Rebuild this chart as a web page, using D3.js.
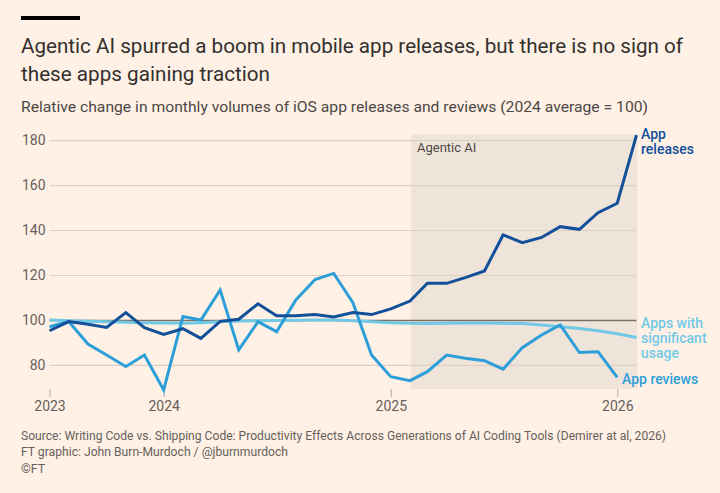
<!DOCTYPE html>
<html>
<head>
<meta charset="utf-8">
<script src="https://cdn.jsdelivr.net/npm/d3@7"></script>
<style>
  html, body { margin: 0; padding: 0; background: #fff1e5; }
  svg { display: block; font-family: Roboto, "Noto Sans", sans-serif; }
</style>
</head>
<body>
<svg class="chart"></svg>
<script>
// monthly, Jul 2023 - Feb 2026
var months = ["2023-07","2023-08","2023-09","2023-10","2023-11","2023-12",
  "2024-01","2024-02","2024-03","2024-04","2024-05","2024-06","2024-07","2024-08","2024-09","2024-10","2024-11","2024-12",
  "2025-01","2025-02","2025-03","2025-04","2025-05","2025-06","2025-07","2025-08","2025-09","2025-10","2025-11","2025-12",
  "2026-01","2026-02"];

var releases = [95.2, 99.3, 98.1, 96.7, 103.3, 96.6,
  93.6, 96.1, 91.8, 99.4, 100.3, 107.2, 101.9, 101.9, 102.4, 101.3, 103.3, 102.4,
  104.9, 108.4, 116.3, 116.3, 118.8, 121.8, 137.8, 134.4, 136.7, 141.5, 140.3, 147.7,
  151.9, 182.2];

// reviews stop at Jan 2026
var reviews = [97, 99.3, 89.3, 84.4, 79.3, 84.4,
  68.9, 101.5, 100, 113.3, 86.7, 99.2, 94.8, 108.9, 118, 120.7, 107.7, 84.4,
  74.8, 73, 77, 84.4, 83, 81.9, 78.1, 87.7, 93.3, 97.8, 85.5, 85.9,
  74.5];

var usage = [100, 99.7, 99.4, 99.2, 99.0, 98.8,
  98.6, 98.5, 98.8, 99.2, 99.5, 99.7, 99.8, 99.9, 100, 100, 99.7, 99.2,
  98.8, 98.5, 98.4, 98.5, 98.6, 98.6, 98.5, 98.4, 97.8, 97.0, 96.2, 95.2,
  93.9, 92.2];

var yTicks = [80, 100, 120, 140, 160, 180];
var xTicks = ["2023-07", "2024-01", "2025-01", "2026-01"];
var agenticSpan = ["2025-02", "2026-02"];

var W = 720, H = 493;
var margin = {top: 134, right: 83.5, bottom: 104, left: 49.5};
var width = W - margin.left - margin.right,
    height = H - margin.top - margin.bottom;

var parse = d3.timeParse("%Y-%m");

var svg = d3.select(".chart").attr("width", W).attr("height", H);
svg.append("rect").attr("width", W).attr("height", H).attr("fill", "#fff1e5");

// header
svg.append("rect").attr("x", 21).attr("y", 16).attr("width", 59).attr("height", 4).attr("fill", "#000");

function fit(sel, w) {
  sel.attr("textLength", w).attr("lengthAdjust", "spacingAndGlyphs");
}

svg.append("text").attr("x", 21).attr("y", 53)
  .attr("font-size", 20).attr("fill", "#33302e")
  .text("Agentic AI spurred a boom in mobile app releases, but there is no sign of")
  .call(fit, 662);
svg.append("text").attr("x", 21).attr("y", 81)
  .attr("font-size", 20).attr("fill", "#33302e")
  .text("these apps gaining traction")
  .call(fit, 249);
svg.append("text").attr("x", 21).attr("y", 112)
  .attr("font-size", 15).attr("fill", "#4d4845")
  .text("Relative change in monthly volumes of iOS app releases and reviews (2024 average = 100)")
  .call(fit, 627);

var src = svg.append("g").attr("font-size", 12.5).attr("fill", "#66605c");
src.append("text").attr("x", 21).attr("y", 440)
  .text("Source: Writing Code vs. Shipping Code: Productivity Effects Across Generations of AI Coding Tools (Demirer at al, 2026)")
  .call(fit, 645);
src.append("text").attr("x", 21).attr("y", 456)
  .text("FT graphic: John Burn-Murdoch / @jburnmurdoch")
  .call(fit, 267);
src.append("text").attr("x", 21).attr("y", 473).text("\u00a9FT");

var chart = svg.append("g")
  .attr("transform", "translate(" + margin.left + "," + margin.top + ")");

var x = d3.scaleTime()
  .domain([parse(months[0]), parse(months[months.length - 1])])
  .range([0, width]);

var y = d3.scaleLinear()
  .domain([69.3, 182.7])
  .range([height, 0]);

// agentic AI shading
chart.append("rect")
  .attr("x", x(parse(agenticSpan[0])) + 1)
  .attr("y", 0)
  .attr("width", x(parse(agenticSpan[1])) - x(parse(agenticSpan[0])))
  .attr("height", height)
  .attr("fill", "#efe4d9");

chart.append("text")
  .attr("x", x(parse(agenticSpan[0])) + 7)
  .attr("y", 18)
  .attr("font-size", 13).attr("fill", "#4d4845")
  .text("Agentic AI");

// y axis + grid
var yAxis = d3.axisLeft(y).tickValues(yTicks).tickSize(-width).tickPadding(4);
var gy = chart.append("g").attr("class", "y axis").call(yAxis);
gy.select(".domain").remove();
gy.selectAll(".tick line")
  .attr("stroke", function(d) { return d === 100 ? "#7a7068" : "#ddd0c5"; })
  .attr("stroke-width", function(d) { return d === 100 ? 1.5 : 1.2; });
gy.selectAll(".tick text")
  .attr("font-size", 14).attr("fill", "#66605c")
  .attr("font-family", "Roboto, 'Noto Sans', sans-serif");

// x axis
var xAxis = d3.axisBottom(x)
  .tickValues(xTicks.map(parse))
  .tickFormat(d3.timeFormat("%Y"))
  .tickSize(8).tickPadding(4);
var gx = chart.append("g").attr("class", "x axis")
  .attr("transform", "translate(0," + height + ")")
  .call(xAxis);
gx.select(".domain").remove();
gx.selectAll(".tick line").attr("stroke", "#b7aca2");
gx.selectAll(".tick text")
  .attr("font-size", 14).attr("fill", "#66605c")
  .attr("font-family", "Roboto, 'Noto Sans', sans-serif");

var line = d3.line()
  .x(function(d) { return x(parse(d.m)); })
  .y(function(d) { return y(d.v); });

function pts(vals) {
  return vals.map(function(v, i) { return {m: months[i], v: v}; });
}

var series = [
  {name: "usage", vals: usage, color: "#72c9e6"},
  {name: "reviews", vals: reviews, color: "#2d9fd8"},
  {name: "releases", vals: releases, color: "#13509a"}
];

chart.selectAll(".series")
  .data(series)
  .enter().append("path")
    .attr("class", function(d) { return "series " + d.name; })
    .attr("d", function(d) { return line(pts(d.vals)); })
    .attr("fill", "none")
    .attr("stroke", function(d) { return d.color; })
    .attr("stroke-width", 3)
    .attr("stroke-linejoin", "miter");

// labels at line ends, one text per line
var labels = [
  {lines: ["App", "releases"], x: 641, y: 139, color: "#13509a"},
  {lines: ["Apps with", "significant", "usage"], x: 641, y: 328, color: "#72c9e6"},
  {lines: ["App reviews"], x: 622, y: 384, color: "#2d9fd8"}
];
var lab = svg.append("g").attr("font-size", 14).attr("font-weight", 500);
labels.forEach(function(l) {
  lab.selectAll(null).data(l.lines).enter().append("text")
    .attr("x", l.x)
    .attr("y", function(d, i) { return l.y + i * 15; })
    .attr("fill", l.color)
    .text(function(d) { return d; });
});
</script>
</body>
</html>
